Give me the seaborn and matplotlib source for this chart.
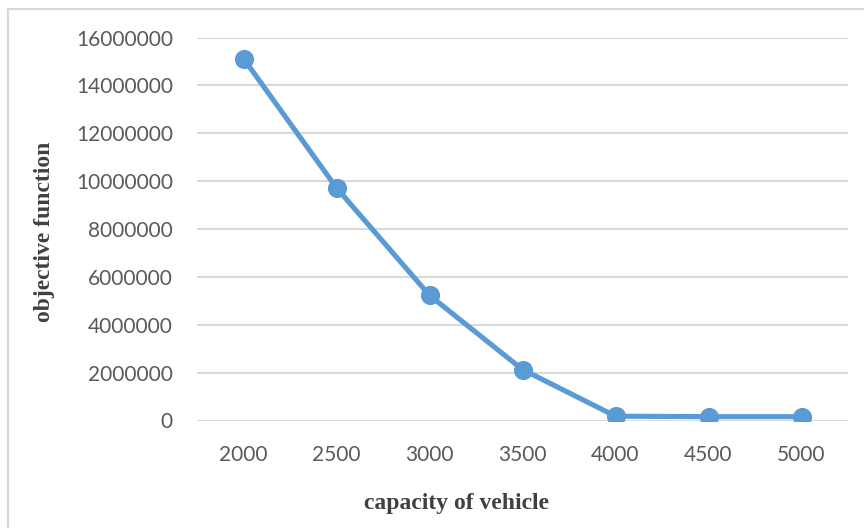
import matplotlib
matplotlib.use("Agg")
import matplotlib.pyplot as plt
from matplotlib.patches import Rectangle
import pandas as pd
import seaborn as sns

# Vehicle capacity vs. objective function value
capacity = ["2000", "2500", "3000", "3500", "4000", "4500", "5000"]
objective = [15120000, 9720000, 5230000, 2130000, 180000, 160000, 160000]
y_ticks = [0, 2000000, 4000000, 6000000, 8000000, 10000000, 12000000, 14000000, 16000000]

df = pd.DataFrame({"capacity": capacity, "objective": objective})

sns.set_theme(style="white")
plt.rcParams["font.family"] = ["Lato", "DejaVu Sans"]

W, H = 864, 528
fig = plt.figure(figsize=(W / 100, H / 100), dpi=100)
ax = fig.add_axes([197 / W, 1 - 420.5 / H, (848 - 197) / W, (420.5 - 37.5) / H])

line_color = "#5B9BD5"
sns.pointplot(data=df, x="capacity", y="objective", order=capacity,
              color=line_color, markers="o", markersize=11,
              linewidth=3.7, ax=ax)

ax.set_ylim(0, 16000000)
ax.set_xlim(-0.5, len(capacity) - 0.5)
ax.set_yticks(y_ticks)
ax.set_yticklabels([str(v) for v in y_ticks])
ax.yaxis.grid(True, color="#D9D9D9", linewidth=1.5)
ax.set_axisbelow(True)
for s in ax.spines.values():
    s.set_visible(False)
ax.tick_params(axis="both", length=0, labelsize=15, labelcolor="#595959")
ax.tick_params(axis="y", pad=17.3)
ax.tick_params(axis="x", pad=17.5)

title_font = dict(family=["Liberation Serif"], fontweight="bold",
                  fontsize=17, color="#404040")
ax.set_xlabel("capacity of vehicle", va="center", **title_font)
ax.set_ylabel("objective function", va="center", **title_font)
ax.xaxis.set_label_coords(0.398, -0.218)
ax.yaxis.set_label_coords(-0.235, 0.493)

# chart-area frame
fig.patches.append(Rectangle((7.5 / W, -0.1), 1.2, 1 - 9 / H + 0.1,
                             transform=fig.transFigure, fill=False,
                             edgecolor="#D9D9D9", linewidth=1.5))

fig.savefig("out.png", dpi=100, facecolor="white")
